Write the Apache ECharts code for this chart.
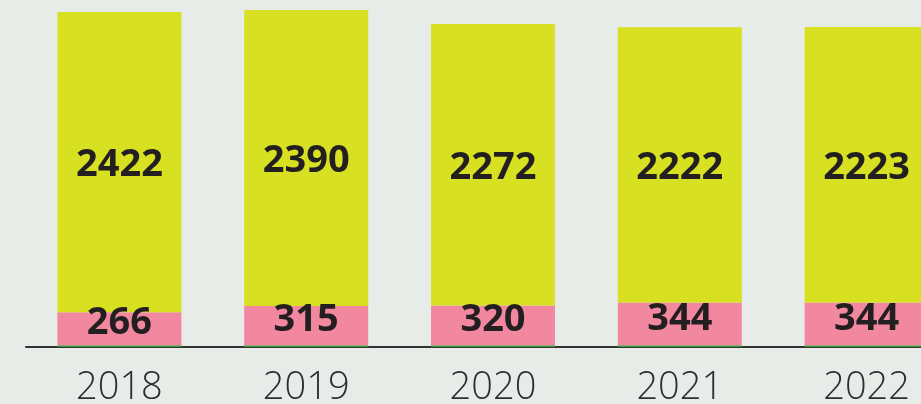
<!DOCTYPE html>
<html><head><meta charset="utf-8">
<script src="https://cdn.jsdelivr.net/npm/echarts@6/dist/echarts.min.js"></script>
<style>html,body{margin:0;padding:0;background:#e8ece8;overflow:hidden;}#c{width:921px;height:404px;}</style>
</head><body><div id="c"></div>
<script>
const years = ['2018','2019','2020','2021','2022'];
const greenVals = [15, 15, 15, 15, 15];
const pinkVals = [266, 315, 320, 344, 344];
const yellowVals = [2422, 2390, 2272, 2222, 2223];

const chart = echarts.init(document.getElementById('c'));
const valLabel = {
  show: true, position: 'inside', color: '#231f20',
  fontFamily: 'Open Sans', fontWeight: 'bold', fontSize: 38
};
chart.setOption({
  backgroundColor: '#e8ece8',
  animation: false,
  grid: {left: 26, right: -39, top: 0, bottom: 57, outerBoundsMode: 'none', containLabel: false},
  xAxis: {
    type: 'category', data: years,
    axisLine: {lineStyle: {color: '#333', width: 2}},
    axisTick: {show: false},
    axisLabel: {color: '#2e2e2e', fontFamily: 'Open Sans', fontWeight: 300, fontSize: 38, margin: 22}
  },
  yAxis: {type: 'value', min: 0, max: 2800, show: false, splitLine: {show: false}},
  series: [
    {type: 'bar', stack: 's', data: greenVals, barWidth: 124, itemStyle: {color: '#3f9a3c'}, z: 1},
    {type: 'bar', stack: 's', data: pinkVals, barWidth: 124, itemStyle: {color: '#f287a0'}, label: Object.assign({}, valLabel, {offset: [0, -5]})},
    {type: 'bar', stack: 's', data: yellowVals, barWidth: 124, itemStyle: {color: '#d7e021'}, label: Object.assign({}, valLabel, {offset: [0, 3]})}
  ]
});
</script></body></html>
